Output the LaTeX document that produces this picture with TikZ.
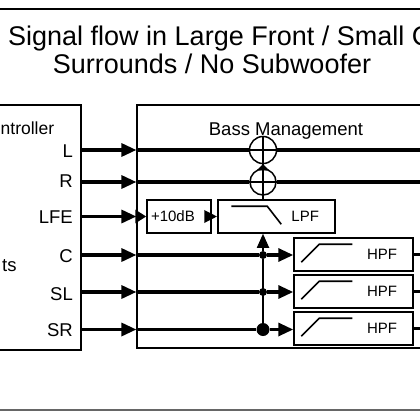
\documentclass[tikz,border=0pt]{standalone}
\usepackage{fontspec}
\setmainfont{Liberation Sans}
\usetikzlibrary{arrows.meta}

\begin{document}
\begin{tikzpicture}[x=1pt,y=-1pt,
  every node/.style={inner sep=0pt},
  box/.style={draw=black,line width=1.5pt},
  sig/.style={line width=3.2pt},
  arr/.style={sig,-{Triangle[length=15pt,width=13pt]}},
  thinl/.style={line width=1.6pt},
  tag/.style={font=\fontsize{18.5}{21}\selectfont,anchor=east},
  big/.style={font=\fontsize{18.5}{21}\selectfont},
  small/.style={font=\fontsize{15}{17}\selectfont},
  dot/.style={circle,fill=black,minimum size=#1}]
\useasboundingbox (0,0) rectangle (420,420);

% title and rules
\coordinate (ruleTL) at (0,9);
\coordinate (ruleTR) at (420,9);
\coordinate (ruleBL) at (0,410);
\coordinate (ruleBR) at (420,410);
\draw [line width=2.2pt] (ruleTL) -- (ruleTR);
\draw [black!60,line width=1.8pt] (ruleBL) -- (ruleBR);
\node [font=\fontsize{27}{32}\selectfont,anchor=base west] (title1) at (8,46) {Signal flow in Large Front / Small C};
\node [font=\fontsize{27}{32}\selectfont,anchor=base] (title2) at (212,74) {Surrounds / No Subwoofer};

% controller
\node [box,minimum width=91pt,minimum height=245pt] (ctrl) at (35.5,227.5) {};
\node [font=\fontsize{17.5}{20}\selectfont,anchor=base west] (ctrlTitle) at (0.5,134) {ntroller};
\node [big,anchor=base west] (ctrlSub) at (2,271) {ts};
\node [tag] (lL) at (73,151) {L};
\node [tag] (lR) at (73,181) {R};
\node [tag] (lLFE) at (73,217) {LFE};
\node [tag] (lC) at (73,256) {C};
\node [tag] (lSL) at (73,294) {SL};
\node [tag] (lSR) at (73,330) {SR};

% bass management
\node [draw=black,line width=1.2pt,minimum width=293pt,minimum height=243pt] (bass) at (283.5,226.5) {};
\node [big,anchor=base] (bassTitle) at (286,135) {Bass Management};

\node [draw,circle,line width=1.5pt,minimum size=27pt] (sumL) at (263,150) {};
\node [draw,circle,line width=1.5pt,minimum size=26pt] (sumR) at (263,182) {};

\node [box,small,minimum height=33pt,text width=56pt,inner xsep=4pt,align=left] (gain) at (179,216.5) {+10dB};
\node [box,small,minimum height=33pt,text width=85pt,inner xsep=16pt,align=right] (lpf) at (276.5,216.5) {LPF};
\draw [thinl] ([xshift=14pt,yshift=-7pt]lpf.north west) -- ++(36,0) -- ++(14,18);

\node [box,small,minimum height=33pt,text width=87pt,inner xsep=16pt,align=right] (hpfC) at (353.5,254.5) {HPF};
\node [box,small,minimum height=33pt,text width=87pt,inner xsep=16pt,align=right] (hpfSL) at (353.5,291.5) {HPF};
\node [box,small,minimum height=33pt,text width=87pt,inner xsep=16pt,align=right] (hpfSR) at (353.5,328.5) {HPF};
\draw [thinl] ([xshift=8pt,yshift=-25pt]hpfC.north west) -- ++(18,-18) -- ++(33,0);
\draw [thinl] ([xshift=8pt,yshift=-25pt]hpfSL.north west) -- ++(18,-18) -- ++(33,0);
\draw [thinl] ([xshift=8pt,yshift=-25pt]hpfSR.north west) -- ++(18,-18) -- ++(33,0);

\node [dot=8pt] (jC) at (263,255) {};
\node [dot=8pt] (jSL) at (263,292) {};
\node [dot=13pt] (jSR) at (263,329.5) {};

\coordinate (outL) at (425,150);
\coordinate (outR) at (425,182);
\coordinate (outC) at (425,254.5);
\coordinate (outSL) at (425,291.5);
\coordinate (outSR) at (425,328.5);

% inputs
\draw [arr] (ctrl.east |- sumL) -- (bass.west |- sumL);
\draw [arr] (ctrl.east |- sumR) -- (bass.west |- sumR);
\draw [arr] (ctrl.east |- gain) -- (bass.west |- gain);
\draw [arr] (ctrl.east |- jC) -- (bass.west |- jC);
\draw [arr] (ctrl.east |- jSL) -- (bass.west |- jSL);
\draw [arr] (ctrl.east |- jSR) -- (bass.west |- jSR);

% mains through the sums
\draw [sig] (bass.west |- sumL) -- (sumL.west);
\draw [thinl] (sumL.west) -- (sumL.east);
\draw [sig] (sumL.east) -- (outL);
\draw [sig] (bass.west |- sumR) -- (sumR.west);
\draw [thinl] (sumR.west) -- (sumR.east);
\draw [sig] (sumR.east) -- (outR);
\draw [thinl] (sumL.north) -- (sumR.south);
\draw [thinl,-{Triangle[length=6pt,width=12pt]}] (sumR.north) -- (sumL.south);
\draw [thinl] (sumR.south |- lpf.north) -- (sumR.south);

% LFE path
\draw [sig,-{Triangle[length=11pt,width=13pt]}] (bass.west |- gain) -- (gain.west);
\draw [sig,-{Triangle[length=13pt,width=12pt]}] ([xshift=-5pt]gain.east) -- (lpf.west);

% C, SL, SR to the high-pass filters
\draw [sig] (bass.west |- jC) -- (jC);
\draw [sig] (bass.west |- jSL) -- (jSL);
\draw [sig] (bass.west |- jSR) -- (jSR);
\draw [arr] (jC) -- (jC -| hpfC.west);
\draw [arr] (jSL) -- (jSL -| hpfSL.west);
\draw [arr] (jSR) -- (jSR -| hpfSR.west);
\draw [line width=1.8pt] (jSR) -- (jC);
\draw [line width=1.8pt,-{Triangle[length=14pt,width=12pt]}] (jC) -- (jC |- lpf.south);
\draw [sig] (hpfC.east) -- (outC);
\draw [sig] (hpfSL.east) -- (outSL);
\draw [sig] (hpfSR.east) -- (outSR);
\end{tikzpicture}
\end{document}
